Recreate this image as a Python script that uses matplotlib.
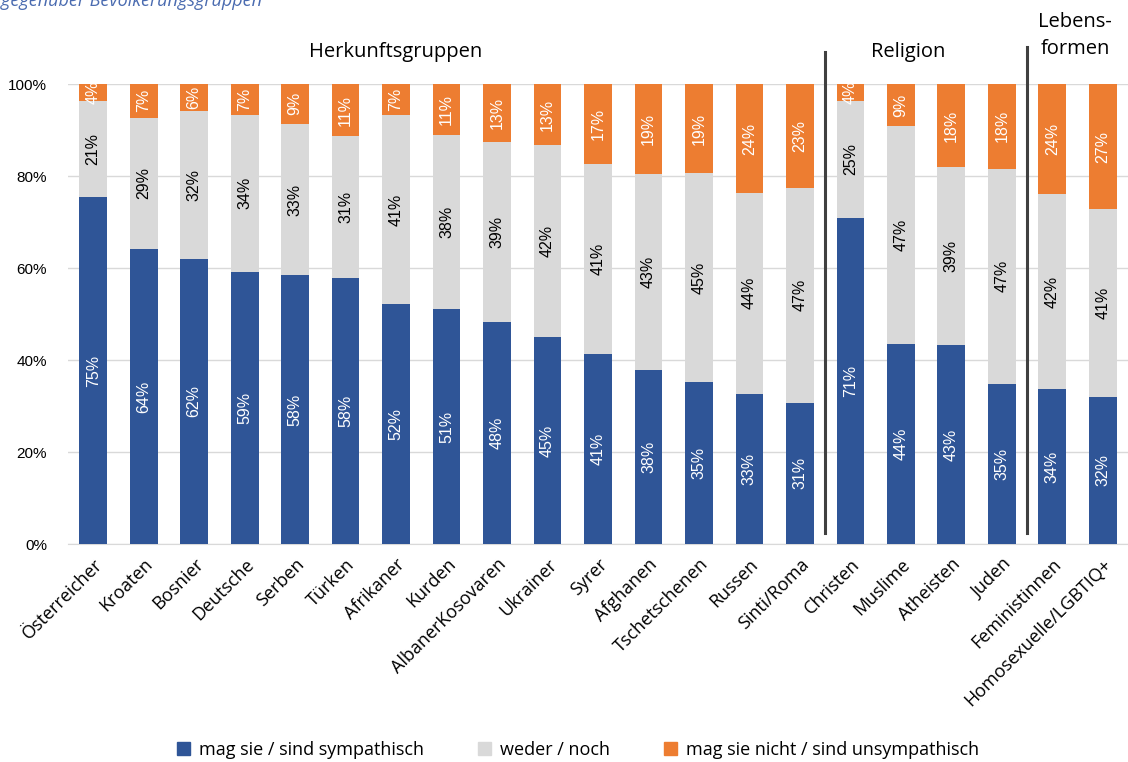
import matplotlib
matplotlib.use("Agg")
import matplotlib.pyplot as plt
from matplotlib.patches import Patch
import numpy as np

categories = ["Österreicher", "Kroaten", "Bosnier", "Deutsche", "Serben", "Türken",
              "Afrikaner", "Kurden", "AlbanerKosovaren", "Ukrainer", "Syrer",
              "Afghanen", "Tschetschenen", "Russen", "Sinti/Roma", "Christen",
              "Muslime", "Atheisten", "Juden", "Feministinnen", "Homosexuelle/LGBTIQ+"]
mag_sie = [75.4, 64.1, 62.0, 59.2, 58.4, 57.9, 52.1, 51.1, 48.2, 44.9, 41.3,
           37.9, 35.3, 32.7, 30.7, 70.9, 43.5, 43.3, 34.8, 33.6, 32.0]
weder = [21.0, 28.6, 32.2, 34.1, 33.0, 30.7, 41.2, 37.9, 39.2, 41.8, 41.4,
         42.6, 45.3, 43.6, 46.7, 25.4, 47.4, 38.6, 46.8, 42.4, 40.8]
mag_nicht = [3.6, 7.3, 5.8, 6.7, 8.6, 11.4, 6.7, 11.0, 12.6, 13.3, 17.3,
             19.4, 19.4, 23.7, 22.6, 3.7, 9.1, 18.1, 18.4, 24.0, 27.2]
series_names = ["mag sie / sind sympathisch", "weder / noch",
                "mag sie nicht / sind unsympathisch"]
group_labels = ["Herkunftsgruppen", "Religion", "Lebens-\nformen"]
yticks = [0, 20, 40, 60, 80, 100]

BLUE = "#2F5597"
GREY = "#D9D9D9"
ORANGE = "#ED7D31"
LABEL_FONT = ["Liberation Sans", "DejaVu Sans"]
CAT_FONT = ["Open Sans", "DejaVu Sans"]

fig = plt.figure(figsize=(11.28, 7.62), dpi=100)
W, H = 1128, 762
ax = fig.add_axes([68 / W, 1 - 544 / H, (1128 - 68) / W, (544 - 84) / H])

x = np.arange(len(categories))
a = np.array(mag_sie) / 100
b = np.array(weder) / 100
c = np.array(mag_nicht) / 100
bw = 0.55
ax.bar(x, a, bw, color=BLUE, zorder=3)
ax.bar(x, b, bw, bottom=a, color=GREY, zorder=3)
ax.bar(x, c, bw, bottom=a + b, color=ORANGE, zorder=3)

def pct(v):
    return f"{int(np.floor(v + 0.5))}%"

for i in range(len(categories)):
    ax.text(x[i], a[i] / 2, pct(mag_sie[i]), rotation=90, ha="center",
            va="center", color="white", fontsize=11.5, family=LABEL_FONT, zorder=4)
    ax.text(x[i], a[i] + b[i] / 2, pct(weder[i]), rotation=90, ha="center",
            va="center", color="black", fontsize=11.5, family=LABEL_FONT, zorder=4)
    ax.text(x[i], a[i] + b[i] + c[i] / 2, pct(mag_nicht[i]), rotation=90,
            ha="center", va="center", color="white", fontsize=11.5,
            family=LABEL_FONT, zorder=4)

ax.set_xlim(-0.5, len(categories) - 0.5)
ax.set_ylim(0, 1)
ax.set_yticks([t / 100 for t in yticks])
ax.set_yticklabels([f"{t}%" for t in yticks], family=LABEL_FONT, fontsize=11)
ax.yaxis.grid(True, color="#D9D9D9", linewidth=1, zorder=0)
ax.tick_params(axis="both", length=0)
ax.tick_params(axis="y", pad=15)
ax.set_xticks(x)
ax.set_xticklabels(categories, rotation=45, ha="right", rotation_mode="anchor",
                   family=CAT_FONT, fontsize=13)
ax.tick_params(axis="x", pad=8)
for s in ["top", "right", "left"]:
    ax.spines[s].set_visible(False)
ax.spines["bottom"].set_color("#D9D9D9")

# group separators
for xs, ytop in [(14.5, 1.07), (18.5, 1.08)]:
    ax.plot([xs, xs], [0.025, ytop], color="#404040", linewidth=2.2,
            clip_on=False, zorder=5)

ax.text(6.0, 1.07, group_labels[0], ha="center", va="center", fontsize=14.5,
        family=CAT_FONT)
ax.text(16.15, 1.07, group_labels[1], ha="center", va="center", fontsize=14.5,
        family=CAT_FONT)
ax.text(19.45, 1.105, group_labels[2], ha="center", va="center", fontsize=14.5,
        family=CAT_FONT, linespacing=1.45)

# clipped title fragment at top-left
fig.text(262 / W, 1 - 6 / H, "Sympathie gegenüber Bevölkerungsgruppen", ha="right",
         va="baseline", fontsize=13, style="italic", color="#4A6BB0",
         family=CAT_FONT)

handles = [Patch(color=BLUE), Patch(color=GREY), Patch(color=ORANGE)]
fig.legend(handles, series_names, loc="center", bbox_to_anchor=(578 / W, 1 - 750 / H),
           ncol=3, frameon=False, handlelength=0.7, handleheight=0.7,
           columnspacing=3.0, handletextpad=0.5, prop={"family": CAT_FONT, "size": 13})

fig.savefig("out.png", dpi=100)
